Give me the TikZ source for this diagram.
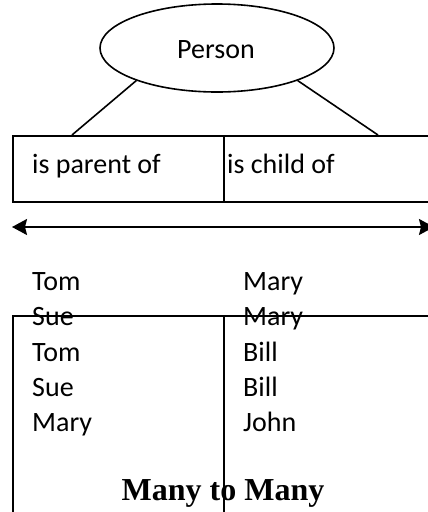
\documentclass[tikz,border=0pt]{standalone}
\usepackage{fontspec}
\setmainfont{Carlito}
\newfontfamily\timesfont{Liberation Serif}
\usetikzlibrary{shapes.geometric,arrows.meta}
\begin{document}
\begin{tikzpicture}[x=1pt,y=-1pt,
  every node/.style={font=\fontsize{28}{30}\selectfont, inner sep=0pt},
  ln/.style={line width=1.6pt},
  cell/.style={draw, line width=1.7pt, anchor=north west, inner sep=0pt},
  txt/.style={anchor=base west},
  dblarrow/.style={line width=1.9pt, >={Stealth[length=15pt,width=16pt,inset=2pt]}, <->}]
\useasboundingbox (0,0) rectangle (428,512);
\clip (0,0) rectangle (428,512);
\fill[white] (0,0) rectangle (428,512);
% entity
\node[ellipse, draw, ln, minimum width=234pt, minimum height=88pt] (person) at (217,48) {};
\node[txt] (ptext) at (177,58) {Person};
% top table
\node[cell, minimum width=211pt, minimum height=66pt] (pcell) at (12,135) {};
\node[cell, minimum width=240pt, minimum height=66pt] (ccell) at (223,135) {};
\node[txt] (ptxt) at (32,173) {is parent of};
\node[txt] (ctxt) at (227,173) {is child of};
\coordinate (lA) at (72,135);
\coordinate (rA) at (378,135);
\draw[ln] (person.202) -- (lA);
\draw[ln] (person.338) -- (rA);
% double arrow
\coordinate (aL) at (12,227);
\coordinate (aR) at (434,227);
\draw[dblarrow] (aL) -- (aR);
% lower table
\node[cell, minimum width=211pt, minimum height=230pt] (lcell) at (12,315) {};
\node[cell, minimum width=240pt, minimum height=230pt] (rcell) at (223,315) {};
% rows
\node[txt] (l1) at (32,290.5) {Tom};
\node[txt] (l2) at (32,325.8) {Sue};
\node[txt] (l3) at (32,361.1) {Tom};
\node[txt] (l4) at (32,396.4) {Sue};
\node[txt] (l5) at (32,431.7) {Mary};
\node[txt] (r1) at (243,290.5) {Mary};
\node[txt] (r2) at (243,325.8) {Mary};
\node[txt] (r3) at (243,361.1) {Bill};
\node[txt] (r4) at (243,396.4) {Bill};
\node[txt] (r5) at (243,431.7) {John};
\node[anchor=base, font=\timesfont\bfseries\fontsize{32}{36}\selectfont] (many) at (223,500) {Many to Many};
\end{tikzpicture}
\end{document}
